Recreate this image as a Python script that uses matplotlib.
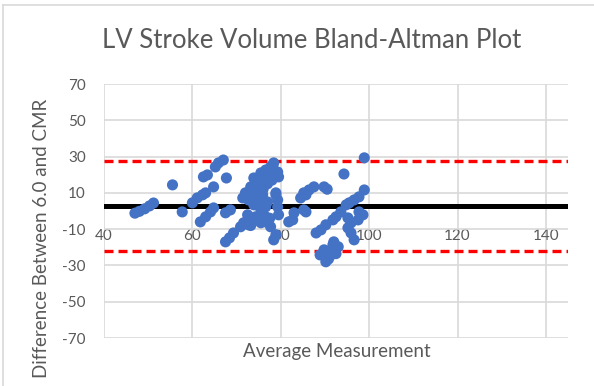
import matplotlib
matplotlib.use("Agg")
import matplotlib.pyplot as plt
from matplotlib.lines import Line2D

# Average of the two measurements (x) and their difference (y)
avg_measurement = [
    47.0, 48.0, 49.2, 50.3, 51.2, 55.5, 57.7,
    60.0, 61.1, 62.3, 63.0, 61.8, 63.0, 64.1, 64.8,
    62.5, 63.4, 64.8, 65.2, 65.9, 67.0, 67.7, 67.5, 68.6,
    67.5, 68.4, 69.3, 70.9, 71.6, 72.7,
    71.4, 72.0, 73.2, 74.3, 75.5, 76.6, 77.7, 78.4, 79.3, 79.5, 78.9, 79.3,
    75.0, 73.9, 75.9, 76.6, 77.3, 78.2, 78.4, 74.3, 73.6, 73.2, 75.9, 78.9,
    75.0, 72.7, 73.9, 75.5, 76.6, 79.3, 72.5, 74.3, 76.6, 79.5, 73.2, 75.5,
    77.7, 78.9, 78.4, 75.9, 76.6, 74.3, 73.2, 77.5, 76.0, 77.0, 78.0, 74.5, 77.0,
    81.8, 82.7, 83.0, 85.2, 85.7,
    84.5, 85.2, 85.7, 86.4, 87.5, 89.8, 90.5,
    88.0, 89.1, 90.2, 91.8, 92.5, 93.6, 94.8, 95.5, 96.6, 97.7, 98.9,
    94.3, 98.9,
    95.2, 95.9, 97.7, 98.6, 97.5, 95.2, 95.9, 96.6,
    92.0, 91.8, 93.0, 89.8, 92.0, 88.9, 91.4, 90.2, 90.8, 92.5,
]
difference = [
    -1.2, -0.2, 1.2, 2.8, 4.4, 14.4, -0.5,
    4.5, 7.2, 8.9, 10.0, -6.0, -3.2, -0.5, 1.7,
    18.8, 19.9, 13.3, 24.3, 26.5, 28.1, 18.2, -1.0, 0.6,
    -17.0, -14.8, -12.1, -8.7, -6.5, -7.6,
    7.2, 10.0, 13.3, 17.1, 21.0, 22.6, 24.3, 26.5, 21.5, 18.8, 10.0, 6.1,
    16.0, 18.2, 18.2, 19.9, 22.6, 25.4, 21.5, 14.4, 12.7, 10.0, 8.9, 8.9,
    6.1, 6.1, 3.4, 0.6, 2.3, 2.3, -2.1, -3.2, -3.2, -2.1, -6.5, -6.5,
    -8.7, -13.1, -15.9, -2.1, -6.0, -4.0, -8.0, -4.0, 12.0, 15.0, 17.0, 9.5, 5.0,
    -6.0, -4.9, -1.0, 0.6, -0.5,
    7.2, 10.0, 8.9, 11.6, 13.3, 13.3, 12.0,
    -12.1, -10.4, -7.6, -4.9, -3.2, -0.5, 3.4, 4.5, 6.1, 7.8, 11.6,
    20.4, 29.3,
    -3.8, -6.5, -0.5, -2.1, -4.9, -9.3, -12.1, -15.9,
    -17.0, -18.6, -19.7, -21.4, -22.5, -24.2, -24.2, -28.0, -26.5, -23.5,
]

mean_difference = 2.7
upper_limit = 27.5
lower_limit = -22.1

x_ticks = [40, 60, 80, 100, 120, 140]
y_ticks = [-70, -50, -30, -10, 10, 30, 50, 70]

plt.rcParams["font.family"] = ["Lato", "DejaVu Sans"]
plt.rcParams["axes.unicode_minus"] = False
text_gray = "#595959"
grid_gray = "#D9D9D9"

fig = plt.figure(figsize=(5.94, 3.86), dpi=100)
ax = fig.add_axes([104 / 594, 1 - 338 / 386, (568 - 104) / 594, (338 - 84) / 386])

ax.set_xlim(40, 145)
ax.set_ylim(-70, 70)
ax.set_xticks(x_ticks)
ax.set_yticks(y_ticks)
ax.grid(True, color=grid_gray, linewidth=1.2, zorder=0)
ax.set_axisbelow(True)

for side in ("top", "right", "left"):
    ax.spines[side].set_visible(False)
ax.spines["bottom"].set_position(("data", -10))
ax.spines["bottom"].set_color("none")

ax.tick_params(axis="both", length=0, labelsize=11, labelcolor=text_gray)
ax.tick_params(axis="y", pad=13)
ax.tick_params(axis="x", pad=0)

ax.axhline(mean_difference, color="black", linewidth=3.6, zorder=2)
for lim in (upper_limit, lower_limit):
    ax.axhline(lim, color="#FF0000", linewidth=2.4,
               linestyle=(0, (2.7, 1.5)), zorder=2)

ax.scatter(avg_measurement, difference, s=64, color="#4472C4",
           edgecolors="none", zorder=3)

fig.text(312 / 594, 1 - 40 / 386, "LV Stroke Volume Bland-Altman Plot",
         ha="center", va="center", fontsize=18.5, color=text_gray)
fig.text(337 / 594, 1 - 352 / 386, "Average Measurement",
         ha="center", va="center", fontsize=13.5, color=text_gray)
fig.text(42 / 594, 1 - 238 / 386, "Difference Between 6.0 and CMR",
         ha="center", va="center", rotation=90, fontsize=13.5, color=text_gray)

# chart-area frame
fig.add_artist(Line2D([3 / 594, 3 / 594], [0, 1 - 5 / 386],
                      transform=fig.transFigure, color=grid_gray, linewidth=1.2))
fig.add_artist(Line2D([3 / 594, 1], [1 - 5 / 386, 1 - 5 / 386],
                      transform=fig.transFigure, color=grid_gray, linewidth=1.2))

fig.savefig("out.png", dpi=100)
